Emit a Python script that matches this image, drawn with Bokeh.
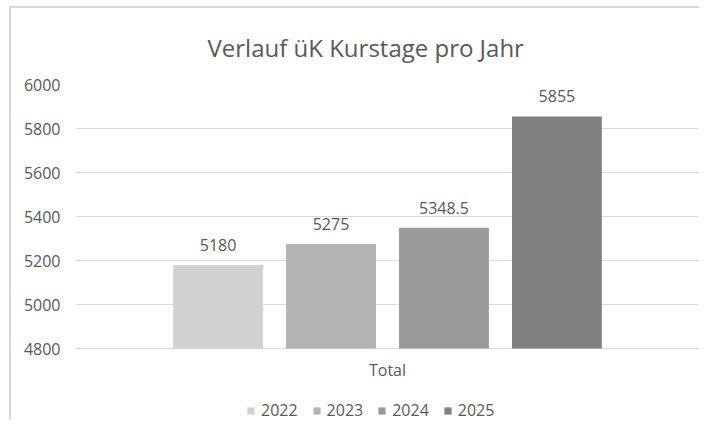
from bokeh.plotting import figure
from bokeh.models import ColumnDataSource, LabelSet, Legend, LegendItem, FactorRange, FixedTicker
from bokeh.transform import dodge
from bokeh.core.properties import value
from bokeh.embed import file_html
from bokeh.resources import INLINE

# ---- data ----
category = ["Total"]
years = ["2022", "2023", "2024", "2025"]
values = [5180, 5275, 5348.5, 5855]
value_labels = ["5180", "5275", "5348.5", "5855"]
colors = ["#d1d1d1", "#b3b3b3", "#999999", "#808080"]
y_min, y_max, y_step = 4800, 6000, 200
y_ticks = list(range(y_min, y_max + 1, y_step))

FONT = "Open Sans"
TXT = "#595959"
GRID = "#d9d9d9"

# value axis spans 264 px; 74 px of frame kept below it for category label and legend
axis_px, below_px = 264, 74
y_lo = y_min - (y_max - y_min) * below_px / axis_px

p = figure(
    x_range=FactorRange(*category), y_range=(y_lo, y_max),
    width=690, height=414, output_backend="svg", toolbar_location=None,
    min_border_left=64, min_border_right=2, min_border_top=76, min_border_bottom=0,
    title="Verlauf üK Kurstage pro Jahr", x_axis_location=None,
)
p.styles = {"border-left": "2px solid #d9d9d9", "border-top": "2px solid #d9d9d9",
            "margin-left": "9px", "margin-top": "6px"}
p.outline_line_color = None
p.background_fill_color = "white"
p.border_fill_color = "white"

p.title.text_font = FONT
p.title.text_font_size = "24px"
p.title.text_font_style = "normal"
p.title.text_color = TXT
p.title.align = "left"
p.title.standoff = 41
p.title.offset = 132

bar_width = 0.144
step = 0.181
items = []
for i, (yr, v, lab, c) in enumerate(zip(years, values, value_labels, colors)):
    src = ColumnDataSource(dict(x=category, top=[v], lab=[lab]))
    off = (i - (len(years) - 1) / 2) * step
    r = p.vbar(x=dodge("x", off, range=p.x_range), top="top", bottom=y_min,
               width=bar_width, source=src, fill_color=c, line_color=None)
    items.append(LegendItem(label=yr, renderers=[r]))
    p.add_layout(LabelSet(x=dodge("x", off, range=p.x_range), y="top", text="lab", source=src,
                          text_align="center", text_baseline="alphabetic", y_offset=14,
                          text_font=value(FONT), text_font_size=value("16px"),
                          text_color=value(TXT)))

# category label under the value axis baseline
cat_src = ColumnDataSource(dict(x=category, y=[y_min], t=category))
p.add_layout(LabelSet(x="x", y="y", text="t", source=cat_src, text_align="center",
                      text_baseline="middle", y_offset=-21,
                      text_font=value(FONT), text_font_size=value("16px"),
                      text_color=value(TXT)))

# y axis
p.yaxis.ticker = FixedTicker(ticks=y_ticks)
p.yaxis.axis_line_color = None
p.yaxis.major_tick_line_color = None
p.yaxis.minor_tick_line_color = None
p.yaxis.major_tick_in = 0
p.yaxis.major_tick_out = 0
p.yaxis.major_label_standoff = 15
p.yaxis.major_label_text_font = FONT
p.yaxis.major_label_text_font_size = "16px"
p.yaxis.major_label_text_color = TXT

p.xgrid.grid_line_color = None
p.ygrid.ticker = FixedTicker(ticks=y_ticks)
p.ygrid.grid_line_color = GRID
p.ygrid.grid_line_width = 1

legend = Legend(items=items, orientation="horizontal", location=(171, 1),
                glyph_width=9, glyph_height=9, label_standoff=6, spacing=14,
                padding=0, margin=0, label_height=15,
                label_text_font=FONT, label_text_font_size="16px", label_text_color=TXT,
                border_line_color=None, background_fill_alpha=0)
p.add_layout(legend, "center")

open("out.html", "w").write(file_html(p, INLINE))
